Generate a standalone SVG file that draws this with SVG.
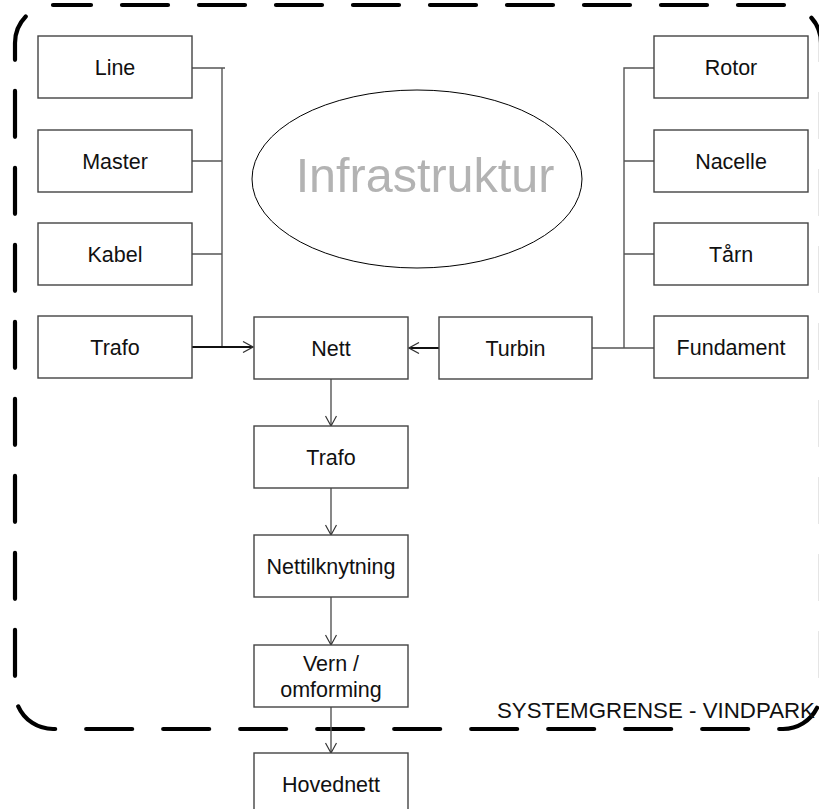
<svg xmlns="http://www.w3.org/2000/svg" width="819" height="809" viewBox="0 0 819 809">
<defs>
<marker id="arr" viewBox="0 0 12 12" refX="11" refY="6" markerWidth="12" markerHeight="12" markerUnits="userSpaceOnUse" orient="auto">
<path d="M1,0.5 L11,6 L1,11.5" fill="none" stroke="#333" stroke-width="1.2"/>
</marker>
</defs>
<style>
.box rect{fill:#fff;stroke:#444;stroke-width:1.4}
.box text{font-family:"Liberation Sans",Arial,sans-serif;font-size:21.5px;fill:#111;text-anchor:middle}
.c{fill:none;stroke:#555;stroke-width:1.4}
.cb{fill:none;stroke:#111;stroke-width:2}
</style>
<rect width="819" height="809" fill="#fff"/>
<g id="boundary">
<path d="M 53,5 H 783 A 38 38 0 0 1 821 43 V 691 A 38 38 0 0 1 783 729 H 53 A 38 38 0 0 1 15 691 V 43 A 38 38 0 0 1 53 5 Z" fill="none" stroke="#000" stroke-width="4.2" stroke-linecap="round" stroke-dasharray="46 31" stroke-dashoffset="8"/>
<text x="497" y="718" font-family="Liberation Sans,Arial,sans-serif" font-size="22.3" fill="#111">SYSTEMGRENSE - VINDPARK</text>
</g>
<g id="infrastruktur">
<ellipse cx="417" cy="179" rx="165" ry="89" fill="#fff" stroke="#000" stroke-width="1"/>
<text x="425" y="192" font-family="Liberation Sans,Arial,sans-serif" font-size="48.5" fill="#b3b3b3" text-anchor="middle">Infrastruktur</text>
</g>
<g id="connectors">
<path class="c" d="M192,68 H225 M222,68 V347 M192,161 H222 M192,254 H222"/>
<path class="cb" d="M192,347 H253" marker-end="url(#arr)"/>
<path class="c" d="M654,68 H624 V348 M654,161 H624 M654,254 H624 M592,348 H654"/>
<path class="cb" d="M439,348 H409" stroke-width="1.6" marker-end="url(#arr)"/>
<path class="c" d="M331,379 V426" marker-end="url(#arr)"/>
<path class="c" d="M331,488 V535" marker-end="url(#arr)"/>
<path class="c" d="M331,597 V645" marker-end="url(#arr)"/>
<path class="c" d="M331,707 V753" marker-end="url(#arr)"/>
</g>
<g id="line" class="box"><rect x="38" y="36" width="154" height="62"/><text x="115" y="74.5">Line</text></g>
<g id="master" class="box"><rect x="38" y="130" width="154" height="62"/><text x="115" y="168.5">Master</text></g>
<g id="kabel" class="box"><rect x="38" y="223" width="154" height="62"/><text x="115" y="261.5">Kabel</text></g>
<g id="trafo1" class="box"><rect x="38" y="316" width="154" height="62"/><text x="115" y="354.5">Trafo</text></g>
<g id="nett" class="box"><rect x="254" y="317" width="154" height="62"/><text x="331" y="355.5">Nett</text></g>
<g id="turbin" class="box"><rect x="439" y="317" width="153" height="62"/><text x="515.5" y="355.5">Turbin</text></g>
<g id="rotor" class="box"><rect x="654" y="36" width="154" height="62"/><text x="731" y="74.5">Rotor</text></g>
<g id="nacelle" class="box"><rect x="654" y="130" width="154" height="62"/><text x="731" y="168.5">Nacelle</text></g>
<g id="taarn" class="box"><rect x="654" y="223" width="154" height="62"/><text x="731" y="261.5">Tårn</text></g>
<g id="fundament" class="box"><rect x="654" y="316" width="154" height="62"/><text x="731" y="354.5">Fundament</text></g>
<g id="trafo2" class="box"><rect x="254" y="426" width="154" height="62"/><text x="331" y="464.5">Trafo</text></g>
<g id="nettilknytning" class="box"><rect x="254" y="535" width="154" height="62"/><text x="331" y="573.5">Nettilknytning</text></g>
<g id="vern" class="box"><rect x="254" y="645" width="154" height="62"/><text x="331" y="671">Vern /</text><text x="331" y="697">omforming</text></g>
<g id="hovednett" class="box"><rect x="254" y="753" width="154" height="62"/><text x="331" y="791.5">Hovednett</text></g>
</svg>
